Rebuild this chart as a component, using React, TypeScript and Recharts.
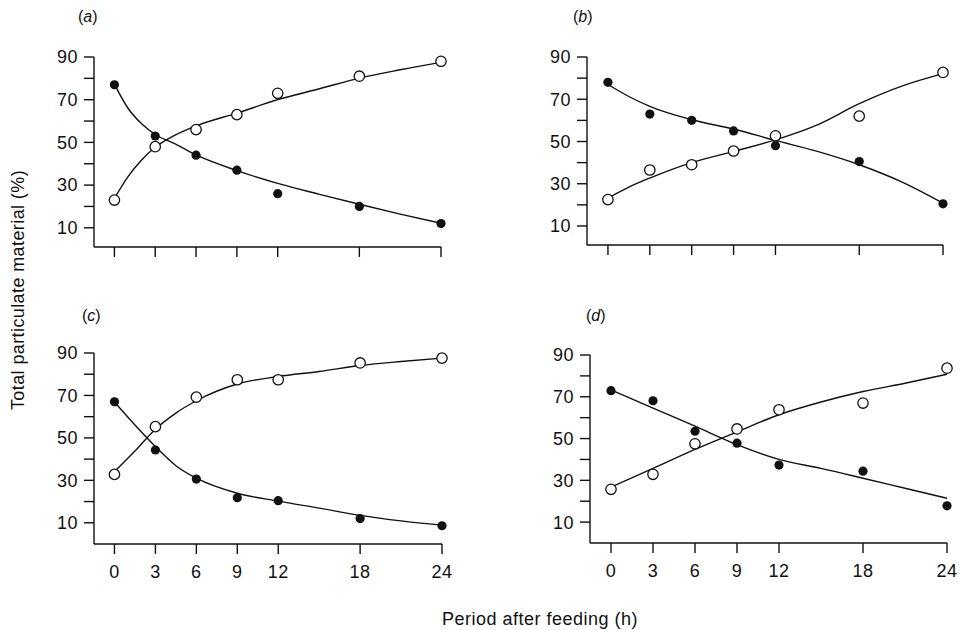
import React from 'react';
import { ComposedChart, Line, Scatter, XAxis, YAxis } from 'recharts';

// ---- data ----
const HOURS = [0, 3, 6, 9, 12, 18, 24];
const X_TICKS = [0, 3, 6, 9, 12, 18, 24];
const Y_TICKS = [10, 20, 30, 40, 50, 60, 70, 80, 90];

// (a)
const A_FILLED = [77, 53, 44, 37, 26, 20, 12];
const A_OPEN = [23, 48, 56, 63, 73, 81, 88];
const A_FIT_HOURS = [0, 1, 2, 3, 4.5, 6, 9, 12, 15, 18, 21, 24];
const A_FIT_FILLED = [77.3, 66, 58.7, 53.7, 49.2, 44.1, 36.8, 30.8, 25.8, 21, 16.4, 12.1];
const A_FIT_OPEN = [23.8, 34, 41.8, 47.7, 53.5, 57.7, 63.7, 70, 75, 80.1, 84, 87.5];

// (b)
const B_FILLED = [78, 63, 60, 55, 48, 40.5, 20.5];
const B_OPEN = [22.5, 36.5, 39, 45.5, 52.7, 62, 82.7];
const B_FIT_HOURS = [0, 1.5, 3, 6, 9, 12, 15, 18, 21, 24];
const B_FIT_FILLED = [77, 71.3, 66.6, 60.3, 55.9, 50.5, 45.3, 39, 31, 20.8];
const B_FIT_OPEN = [23.2, 28.4, 32.7, 40, 45.3, 50.8, 57.9, 67.9, 76.1, 82.1];

// (c)
const C_FILLED = [67, 44.3, 30.6, 21.8, 20.4, 12, 8.6];
const C_OPEN = [32.8, 55.3, 69.2, 77.4, 77.4, 85.3, 87.6];
const C_FIT_HOURS = [0, 1.5, 3, 4.5, 6, 9, 12, 15, 18, 21, 24];
const C_FIT_FILLED = [66.9, 56.1, 45.9, 36.9, 31, 23.9, 20.2, 16.9, 13.5, 10.9, 8.9];
const C_FIT_OPEN = [34.1, 43.8, 54.1, 61.7, 67.5, 75.4, 78.9, 81.3, 84.1, 86, 87.6];

// (d)
const D_FILLED = [72.9, 68.1, 53.5, 47.8, 37.3, 34.4, 17.8];
const D_OPEN = [25.7, 32.9, 47.5, 54.6, 63.8, 67, 83.7];
const D_FIT_HOURS = [0, 3, 6, 9, 12, 15, 18, 21, 24];
const D_FIT_FILLED = [73.3, 64.6, 55.9, 47.1, 40, 35.7, 31, 26.2, 21.4];
const D_FIT_OPEN = [26.8, 35.7, 44.8, 53.2, 61.4, 67.5, 72.5, 76.5, 80.8];

const Y_TITLE = 'Total particulate material (%)';
const X_TITLE = 'Period after feeding (h)';

// ---- helpers ----
const pts = (xs: number[], ys: number[]) => xs.map((x, i) => ({ x, y: ys[i] }));

const FONT = '"Liberation Sans", Arial, Helvetica, sans-serif';
const INK = '#111';

const FilledDot = (p: any) =>
  p.cx == null ? null : <circle cx={p.cx} cy={p.cy} r={4.6} fill={INK} />;
const OpenDot = (p: any) =>
  p.cx == null ? null : (
    <circle cx={p.cx} cy={p.cy} r={5.2} fill="#fff" stroke={INK} strokeWidth={1.3} />
  );

type PanelProps = {
  left: number;
  top: number;
  margin: { top: number; right: number; left: number; bottom: number };
  yMin: number;
  xLabels: boolean;
  filled: number[];
  open: number[];
  fitHours: number[];
  fitFilled: number[];
  fitOpen: number[];
};

const Panel = (p: PanelProps) => (
  <div style={{ position: 'absolute', left: p.left, top: p.top, width: 480, height: 300 }}>
    <ComposedChart width={480} height={300} margin={p.margin}>
      <XAxis
        type="number"
        dataKey="x"
        domain={[-1.5, 24]}
        ticks={X_TICKS}
        interval={0}
        height={40}
        tickSize={10}
        tickMargin={11}
        tickFormatter={(v: number) => (p.xLabels ? String(v) : '')}
        axisLine={{ stroke: INK, strokeWidth: 1.4 }}
        tickLine={{ stroke: INK, strokeWidth: 1.4 }}
        tick={{ fill: INK, fontSize: 18, fontFamily: FONT, letterSpacing: 0.5 }}
      />
      <YAxis
        type="number"
        domain={[p.yMin, 90]}
        ticks={Y_TICKS}
        interval={0}
        width={60}
        tickSize={10}
        tickMargin={6}
        tickFormatter={(v: number) => (v % 20 === 10 ? String(v) : '')}
        axisLine={{ stroke: INK, strokeWidth: 1.4 }}
        tickLine={{ stroke: INK, strokeWidth: 1.4 }}
        tick={{ fill: INK, fontSize: 18, fontFamily: FONT, letterSpacing: 0.5 }}
      />
      <Line
        data={pts(p.fitHours, p.fitFilled)}
        dataKey="y"
        type="monotone"
        stroke={INK}
        strokeWidth={1.4}
        dot={false}
        activeDot={false}
        isAnimationActive={false}
      />
      <Line
        data={pts(p.fitHours, p.fitOpen)}
        dataKey="y"
        type="monotone"
        stroke={INK}
        strokeWidth={1.4}
        dot={false}
        activeDot={false}
        isAnimationActive={false}
      />
      <Scatter data={pts(HOURS, p.filled)} dataKey="y" shape={FilledDot} isAnimationActive={false} />
      <Scatter data={pts(HOURS, p.open)} dataKey="y" shape={OpenDot} isAnimationActive={false} />
    </ComposedChart>
  </div>
);

const PanelTag = ({ x, y, letter }: { x: number; y: number; letter: string }) => (
  <text x={x} y={y} fontSize={16} fill={INK} fontFamily={FONT}>
    (<tspan fontStyle="italic">{letter}</tspan>)
  </text>
);

export default function App() {
  return (
    <div
      style={{
        position: 'absolute',
        left: 0,
        top: 0,
        width: 966,
        height: 630,
        background: '#fff',
        fontFamily: FONT,
        overflow: 'hidden',
      }}
    >
      <Panel
        left={0}
        top={0}
        margin={{ top: 57, right: 39, left: 34, bottom: 13 }}
        yMin={1}
        xLabels={false}
        filled={A_FILLED}
        open={A_OPEN}
        fitHours={A_FIT_HOURS}
        fitFilled={A_FIT_FILLED}
        fitOpen={A_FIT_OPEN}
      />
      <Panel
        left={480}
        top={0}
        margin={{ top: 57, right: 17, left: 47, bottom: 15 }}
        yMin={1}
        xLabels={false}
        filled={B_FILLED}
        open={B_OPEN}
        fitHours={B_FIT_HOURS}
        fitFilled={B_FIT_FILLED}
        fitOpen={B_FIT_OPEN}
      />
      <Panel
        left={0}
        top={300}
        margin={{ top: 53, right: 38, left: 34, bottom: 16 }}
        yMin={0}
        xLabels={true}
        filled={C_FILLED}
        open={C_OPEN}
        fitHours={C_FIT_HOURS}
        fitFilled={C_FIT_FILLED}
        fitOpen={C_FIT_OPEN}
      />
      <Panel
        left={480}
        top={300}
        margin={{ top: 55, right: 13, left: 50, bottom: 17 }}
        yMin={0}
        xLabels={true}
        filled={D_FILLED}
        open={D_OPEN}
        fitHours={D_FIT_HOURS}
        fitFilled={D_FIT_FILLED}
        fitOpen={D_FIT_OPEN}
      />
      <svg
        width={966}
        height={630}
        style={{ position: 'absolute', left: 0, top: 0, pointerEvents: 'none' }}
      >
        <PanelTag x={78} y={22} letter="a" />
        <PanelTag x={573} y={22} letter="b" />
        <PanelTag x={82} y={321} letter="c" />
        <PanelTag x={586} y={321} letter="d" />
        <text
          x={0}
          y={0}
          transform="translate(24 290) rotate(-90)"
          textAnchor="middle"
          fontSize={18}
          letterSpacing={0.4}
          fill={INK}
          fontFamily={FONT}
        >
          {Y_TITLE}
        </text>
        <text x={442} y={625} fontSize={18} letterSpacing={0.5} fill={INK} fontFamily={FONT}>
          {X_TITLE}
        </text>
      </svg>
    </div>
  );
}
